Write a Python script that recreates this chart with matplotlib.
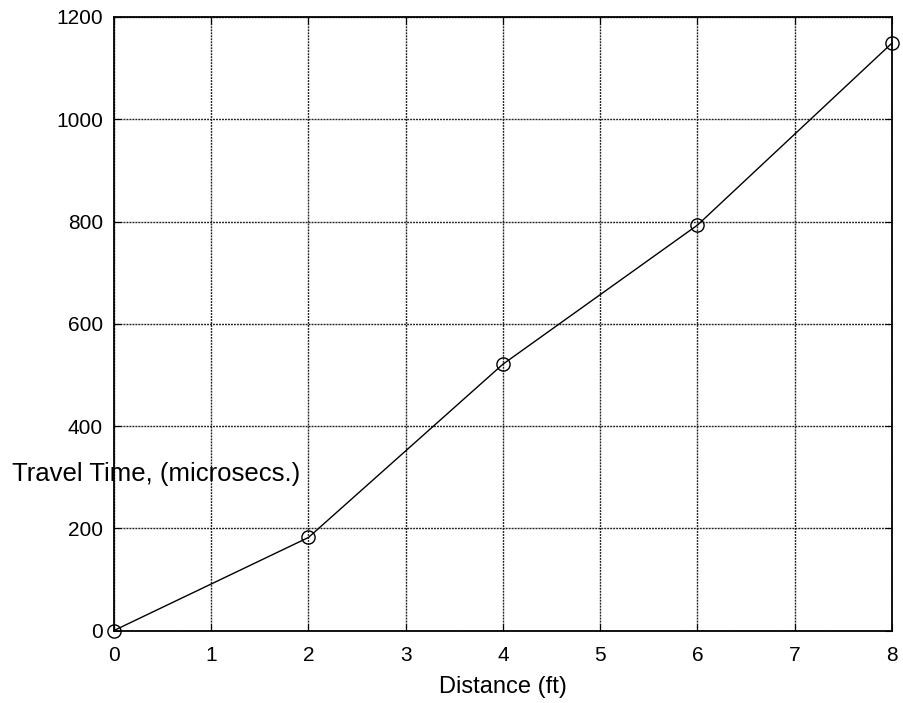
import matplotlib
matplotlib.use("Agg")
import matplotlib.pyplot as plt

distance_ft = [0, 2, 4, 6, 8]
travel_time_us = [0, 182, 521, 793, 1149]
x_ticks = [0, 1, 2, 3, 4, 5, 6, 7, 8]
y_ticks = [0, 200, 400, 600, 800, 1000, 1200]

plt.rcParams['font.family'] = ['Liberation Sans', 'DejaVu Sans']

fig = plt.figure(figsize=(9.04, 7.03), dpi=100)
ax = fig.add_axes([114/904, 1 - 630.5/703, (892-114)/904, (630.5-17)/703])

ax.plot(distance_ft, travel_time_us, color='black', linewidth=1.0,
        marker='o', markersize=9.5, markerfacecolor='none',
        markeredgecolor='black', markeredgewidth=1.0, clip_on=False, zorder=3)

ax.set_xlim(0, 8)
ax.set_ylim(0, 1200)
ax.set_xticks(x_ticks)
ax.set_yticks(y_ticks)
ax.grid(True, color='#222222', linestyle=(0, (1.4, 0.75)), linewidth=1.0)
ax.set_axisbelow(True)
for s in ax.spines.values():
    s.set_linewidth(1.3)
    s.set_color('black')
ax.tick_params(direction='in', top=True, right=True, length=5, width=0.8,
               labelsize=15, colors='black')
ax.tick_params(axis='x', pad=11)
ax.tick_params(axis='y', pad=8)

ax.set_xlabel('Distance (ft)', fontsize=17, labelpad=8)
ax.set_ylabel('Travel Time, (microsecs.)', fontsize=18.5, rotation=0,
              ha='center', va='center')
ax.yaxis.set_label_coords((156 - 114) / (892 - 114), (630.5 - 474) / (630.5 - 17))

fig.savefig('out.png', dpi=100)
